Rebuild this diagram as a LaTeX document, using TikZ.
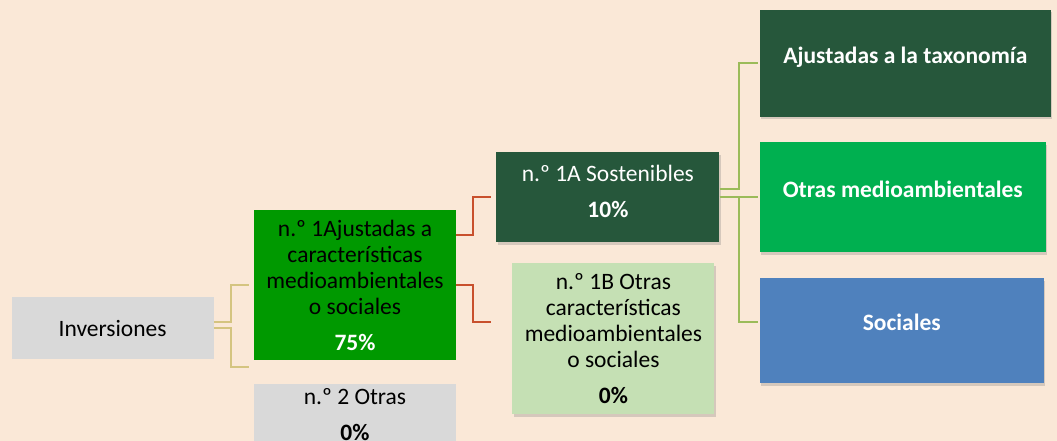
\documentclass[tikz,border=0pt]{standalone}
\usepackage{fontspec}
\setmainfont{Carlito}
\usepackage{xcolor}
\usetikzlibrary{positioning, shadows}

\definecolor{fondo}{RGB}{250,232,215}
\definecolor{gris}{RGB}{217,217,217}
\definecolor{verdecar}{RGB}{0,153,0}
\definecolor{verdeosc}{RGB}{38,87,59}
\definecolor{verdecla}{RGB}{197,224,180}
\definecolor{verdemed}{RGB}{0,176,80}
\definecolor{azul}{RGB}{79,129,189}
\definecolor{lineatan}{RGB}{212,196,128}
\definecolor{linearoja}{RGB}{200,80,45}
\definecolor{lineaverde}{RGB}{155,187,89}

\begin{document}
\begin{tikzpicture}[x=1pt, y=1pt,
  box/.style={rectangle, inner sep=2pt, align=center, font=\fontsize{23.5}{26}\selectfont},
  greybox/.style={box, fill=gris, text=black, minimum width=202pt},
  subbox/.style={box, drop shadow={shadow xshift=1.5pt, shadow yshift=-2.5pt, opacity=0.3}},
  leafbox/.style={subbox, text=white, font=\fontsize{23.5}{26}\selectfont\bfseries,
    text height=16pt, text depth=16pt},
  link/.style={line width=2pt}
]
\useasboundingbox (0,0) rectangle (1057,-441);
\fill[fondo] (0,0) rectangle (1057,-441);
\clip (0,0) rectangle (1057,-441);

% nivel 1
\node (n1) [box, fill=verdecar, minimum width=202pt, minimum height=150pt] at (355,-285)
  {n.º 1Ajustadas a\\características\\medioambientales\\o sociales\\[10pt]\textcolor{white}{\textbf{75\%}}};
\node (inv) [greybox, minimum height=62pt, left=40pt of n1, yshift=-43pt] {Inversiones};
\node (n2) [greybox, minimum height=61pt, below=24pt of n1] {n.º 2 Otras\\[10pt]\textbf{0\%}};

% nivel 2
\node (s1A) [subbox, fill=verdeosc, text=white, minimum width=223pt, minimum height=90pt,
  right=40pt of n1, yshift=88pt] {n.º 1A Sostenibles\\[10pt]\textbf{10\%}\\[-14pt]\mbox{}};
\node (s1B) [subbox, fill=verdecla, minimum width=202pt, minimum height=151pt,
  right=56pt of n1, yshift=-53.5pt]
  {n.º 1B Otras\\características\\medioambientales\\o sociales\\[10pt]\textbf{0\%}};

% nivel 3
\node (tax) [leafbox, fill=verdeosc, minimum width=291pt, minimum height=107pt,
  right=40pt of s1A, yshift=133.5pt] {Ajustadas a la taxonomía};
\node (otras) [leafbox, fill=verdemed, minimum width=286pt, minimum height=110pt,
  right=40pt of s1A] {Otras medioambientales};
\node (soc) [leafbox, fill=azul, minimum width=284pt, minimum height=105pt,
  right=40pt of s1A, yshift=-133.5pt] {Sociales};

% conectores
\draw [link, lineatan] ([yshift=6pt]inv.east) -- ++(17,0) |- ([xshift=-5pt]n1.west);
\draw [link, lineatan] (inv.east) -- ++(17,0) |- ([xshift=-5pt,yshift=-7pt]n1.south west);
\draw [link, linearoja] ([yshift=50pt]n1.east) -- ++(17,0) |- ([xshift=-5pt]s1A.west);
\draw [link, linearoja] (n1.east) -- ++(17,0) |- ([xshift=-21pt,yshift=16.5pt]s1B.west);
\draw [link, lineaverde] ([yshift=8pt]s1A.east) -- ++(19,0) |- ([xshift=-2pt]tax.west);
\draw [link, lineaverde] (s1A.east) -- ([xshift=-2pt]otras.west);
\draw [link, lineaverde] (s1A.east) -- ++(19,0) |- ([xshift=-2pt,yshift=8.5pt]soc.west);

\end{tikzpicture}
\end{document}
